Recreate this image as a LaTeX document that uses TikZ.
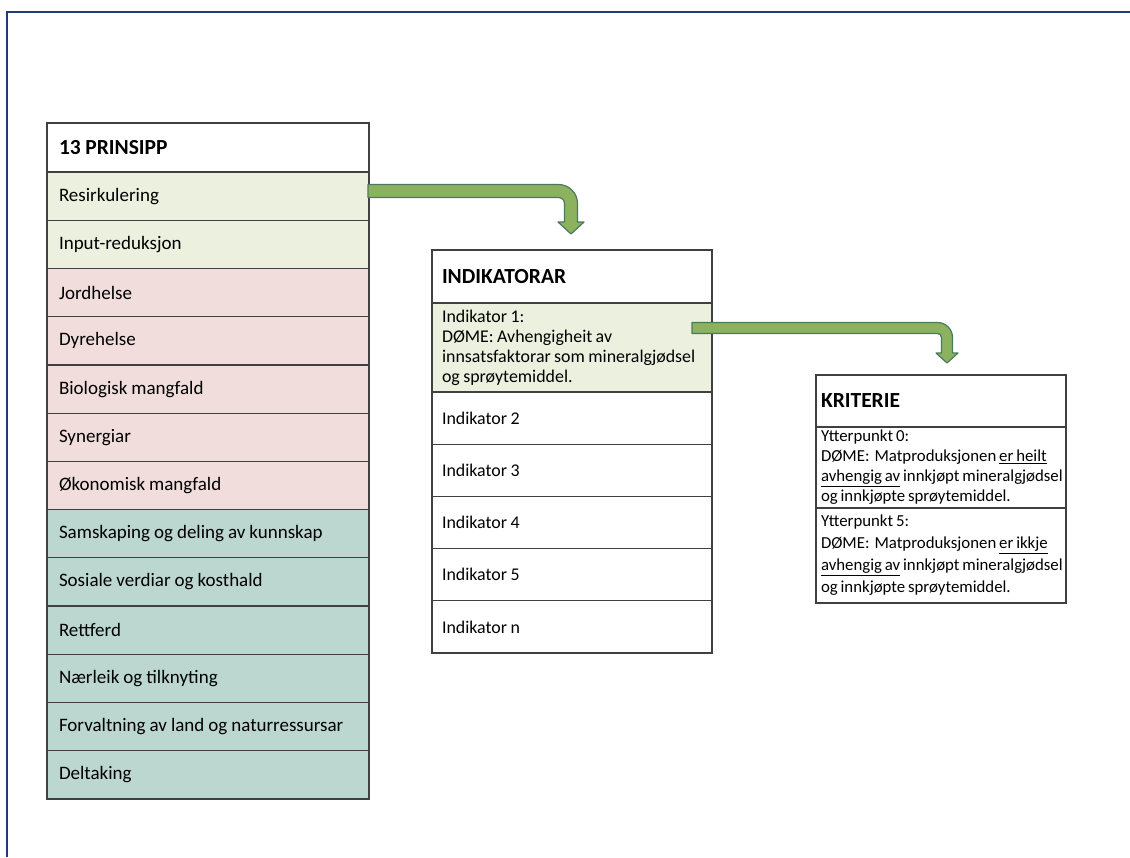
\documentclass[tikz,border=0pt]{standalone}
\usepackage{fontspec}
\setmainfont{Carlito}
\usetikzlibrary{calc}
\definecolor{framec}{HTML}{1F3A78}
\definecolor{bordc}{HTML}{404040}
\definecolor{cgreen}{HTML}{EBF1DE}
\definecolor{cpink}{HTML}{F1DEDC}
\definecolor{cteal}{HTML}{BCD7CF}
\definecolor{arrfill}{HTML}{8DB25F}
\definecolor{arrdraw}{HTML}{4A7A5C}
\newcommand\setsp[1]{\spaceskip=#1em plus 0.1em\relax}
\tikzset{
  basecell/.style={draw=bordc, line width=1.3pt, anchor=north west, outer sep=0pt, inner ysep=0pt, align=left},
  pcell/.style={basecell, text width=298pt, inner xsep=12pt, minimum height=48.23pt, font=\fontsize{19}{22}\selectfont, execute at begin node={\setsp{0.21}}},
  phead/.style={pcell, minimum height=49pt, font=\fontsize{21.5}{24}\selectfont\bfseries},
  icell/.style={basecell, text width=260pt, inner xsep=10pt, minimum height=52.2pt, font=\fontsize{17.9}{20}\selectfont, execute at begin node={\setsp{0.19}}},
  ihead/.style={icell, minimum height=53pt, font=\fontsize{21.5}{24}\selectfont\bfseries},
  kcell/.style={basecell, text width=240pt, inner xsep=5pt, font=\fontsize{16.8}{20}\selectfont, execute at begin node={\setsp{0.17}}},
  khead/.style={kcell, minimum height=52pt, font=\fontsize{21.5}{24}\selectfont\bfseries},
  bentarr/.style={fill=arrfill, draw=arrdraw, line width=1.2pt, line join=round},
}
\newcommand\bentarrow[8][]{%
  \filldraw[bentarr,#1] let \p1=(#2), \p2=(#3) in
   (\x1,\y1+#4pt) -- (\x2+#4pt-#5pt,\y1+#4pt)
   arc[start angle=90,end angle=0,radius=#5pt]
   -- (\x2+#4pt,\y2+#8pt) -- (\x2+#7pt,\y2+#8pt) -- (\x2,\y2)
   -- (\x2-#7pt,\y2+#8pt) -- (\x2-#4pt,\y2+#8pt)
   -- (\x2-#4pt,\y1-#4pt-#6pt)
   arc[start angle=0,end angle=90,radius=#6pt]
   -- (\x1,\y1-#4pt) -- cycle;}
\begin{document}
\begin{tikzpicture}[x=1pt,y=-1pt]
\useasboundingbox (0,0) rectangle (1130,857);
\fill[white] (0,0) rectangle (1130,857);
\draw[framec, line width=2.2pt] (1130,12) -- (7,12) -- (7,857);

% left table
\node[phead, fill=white] (p0) at (47,123) {13 PRINSIPP};
\node[pcell, fill=cgreen] (p1) at (p0.south west) {Resirkulering};
\node[pcell, fill=cgreen] (p2) at (p1.south west) {Input-reduksjon};
\node[pcell, fill=cpink] (p3) at (p2.south west) {Jordhelse};
\node[pcell, fill=cpink] (p4) at (p3.south west) {Dyrehelse};
\node[pcell, fill=cpink] (p5) at (p4.south west) {Biologisk mangfald};
\node[pcell, fill=cpink] (p6) at (p5.south west) {Synergiar};
\node[pcell, fill=cpink] (p7) at (p6.south west) {Økonomisk mangfald};
\node[pcell, fill=cteal] (p8) at (p7.south west) {Samskaping og deling av kunnskap};
\node[pcell, fill=cteal] (p9) at (p8.south west) {Sosiale verdiar og kosthald};
\node[pcell, fill=cteal] (p10) at (p9.south west) {Rettferd};
\node[pcell, fill=cteal] (p11) at (p10.south west) {Nærleik og tilknyting};
\node[pcell, fill=cteal] (p12) at (p11.south west) {Forvaltning av land og naturressursar};
\node[pcell, fill=cteal] (p13) at (p12.south west) {Deltaking};

% middle table
\node[ihead, fill=white] (i0) at (432,250) {INDIKATORAR};
\node[icell, fill=cgreen, minimum height=89pt] (i1) at (i0.south west) {\mbox{Indikator 1:}\\\mbox{DØME: Avhengigheit av}\\\mbox{innsatsfaktorar som mineralgjødsel}\\\mbox{og sprøytemiddel.}};
\node[icell, fill=white] (i2) at (i1.south west) {Indikator 2};
\node[icell, fill=white] (i3) at (i2.south west) {Indikator 3};
\node[icell, fill=white] (i4) at (i3.south west) {Indikator 4};
\node[icell, fill=white] (i5) at (i4.south west) {Indikator 5};
\node[icell, fill=white] (i6) at (i5.south west) {Indikator n};

% right table
\node[khead, fill=white] (k0) at (816,375) {KRITERIE};
\node[kcell, fill=white, minimum height=81pt] (k1) at (k0.south west) {\mbox{Ytterpunkt 0:}\\\mbox{DØME:\hspace{0.3em}Matproduksjonen \underline{er heilt}}\\\mbox{\underline{avhengig av} innkjøpt mineralgjødsel}\\\mbox{og innkjøpte sprøytemiddel.}};
\node[kcell, fill=white, minimum height=95pt, font=\fontsize{16.8}{22}\selectfont] (k2) at (k1.south west) {\mbox{Ytterpunkt 5:}\\\mbox{DØME:\hspace{0.3em}Matproduksjonen \underline{er ikkje}}\\\mbox{\underline{avhengig av} innkjøpt mineralgjødsel}\\\mbox{og innkjøpte sprøytemiddel.}};

% arrows
\coordinate (a1s) at ($(p1.north east)+(-1,19)$);
\coordinate (a1t) at ($(i0.north west)+(139,-16)$);
\coordinate (a2s) at ($(i1.north east)+(-20,25)$);
\coordinate (a2t) at ($(k0.north west)+(131,-12)$);
\bentarrow{a1s}{a1t}{6.5}{19}{6}{13}{12}
\bentarrow{a2s}{a2t}{5.5}{15}{4}{11}{10}
\end{tikzpicture}
\end{document}
